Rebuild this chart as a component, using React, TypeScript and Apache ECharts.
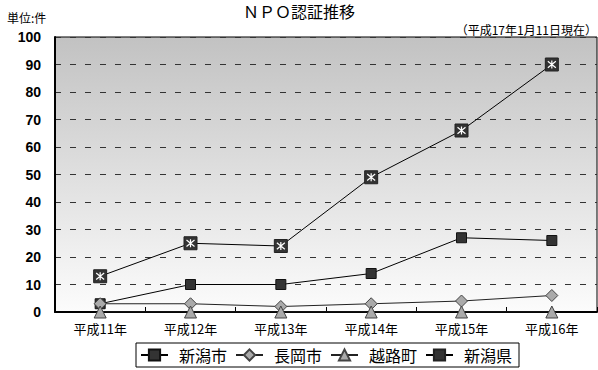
import React, { useEffect, useRef } from "react";
import * as echarts from "echarts";

const categories = ["平成11年", "平成12年", "平成13年", "平成14年", "平成15年", "平成16年"];
const niigataCity = [3, 10, 10, 14, 27, 26];
const nagaokaCity = [3, 3, 2, 3, 4, 6];
const koshijiTown = [0, 0, 0, 0, 0, 0];
const niigataPref = [13, 25, 24, 49, 66, 90];
const seriesNames = ["新潟市", "長岡市", "越路町", "新潟県"];
const yTicks = { min: 0, max: 100, interval: 10 };

const JP = '"Noto Sans CJK JP", "Noto Sans", sans-serif';

export default function App() {
  const ref = useRef<HTMLDivElement>(null);
  useEffect(() => {
    if (!ref.current) return;
    const chart = echarts.init(ref.current, null, { renderer: "svg" });
    const option = {
      animation: false,
      backgroundColor: "#ffffff",
      graphic: [
        {
          type: "text",
          left: "center",
          top: 3,
          style: { text: "ＮＰＯ認証推移", fontSize: 16, fill: "#000", fontFamily: JP },
        },
        {
          type: "text",
          left: 7,
          top: 11,
          style: { text: "単位:件", fontSize: 12, fill: "#000", fontFamily: JP },
        },
        {
          type: "text",
          right: 1,
          top: 23,
          style: { text: "（平成17年1月11日現在）", fontSize: 12, fill: "#000", fontFamily: JP },
        },
      ],
      grid: {
        left: 55,
        right: 1,
        top: 37,
        bottom: 58,
        show: true,
        borderColor: "#000",
        borderWidth: 1,
        backgroundColor: new echarts.graphic.LinearGradient(0, 0, 0, 1, [
          { offset: 0, color: "#c2c2c2" },
          { offset: 1, color: "#fcfcfc" },
        ]),
      },
      legend: {
        data: seriesNames,
        left: 136,
        top: 343,
        padding: [4, 7, 4, 4],
        borderColor: "#000",
        borderWidth: 1,
        itemWidth: 27,
        itemHeight: 14,
        itemGap: 8,
        textStyle: { fontSize: 16, color: "#000", fontFamily: JP, padding: [0, 0, 0, 6] },
      },
      xAxis: {
        type: "category",
        data: categories,
        boundaryGap: true,
        axisLine: { show: true, lineStyle: { color: "#000", width: 2 } },
        axisTick: { show: true, inside: true, length: 5, lineStyle: { color: "#000" } },
        axisLabel: { fontSize: 13, color: "#000", margin: 10, fontFamily: JP },
        splitLine: { show: false },
      },
      yAxis: {
        type: "value",
        min: yTicks.min,
        max: yTicks.max,
        interval: yTicks.interval,
        axisLine: { show: true, lineStyle: { color: "#000", width: 2 } },
        axisTick: { show: false },
        axisLabel: {
          fontSize: 14,
          fontWeight: "bold",
          color: "#000",
          margin: 14,
          fontFamily: '"Liberation Sans", Arial, sans-serif',
        },
        splitLine: { show: true, lineStyle: { color: "#333", type: [6, 9], width: 1 } },
      },
      series: [
        {
          name: "新潟市",
          type: "line",
          data: niigataCity,
          symbol: "rect",
          symbolSize: 10,
          lineStyle: { color: "#000", width: 1 },
          itemStyle: { color: "#333", borderColor: "#111", borderWidth: 1 },
        },
        {
          name: "長岡市",
          type: "line",
          data: nagaokaCity,
          symbol: "diamond",
          symbolSize: 12,
          lineStyle: { color: "#222", width: 1 },
          itemStyle: { color: "#aaaaaa", borderColor: "#444", borderWidth: 1 },
        },
        {
          name: "越路町",
          type: "line",
          data: koshijiTown,
          symbol: "triangle",
          symbolSize: 12,
          lineStyle: { color: "#222", width: 1 },
          itemStyle: { color: "#aaaaaa", borderColor: "#444", borderWidth: 1 },
        },
        {
          name: "新潟県",
          type: "line",
          data: niigataPref,
          symbol: "rect",
          symbolSize: 13,
          lineStyle: { color: "#000", width: 1 },
          itemStyle: { color: "#333", borderColor: "#222", borderWidth: 1 },
        },
        {
          name: "新潟県",
          type: "line",
          data: niigataPref,
          symbol: "path://M1,1L9,9M9,1L1,9M5,0L5,10",
          symbolSize: 8,
          silent: true,
          lineStyle: { width: 0, opacity: 0 },
          itemStyle: { color: "rgba(0,0,0,0)", borderColor: "#fff", borderWidth: 1.2 },
        },
      ],
    };
    chart.setOption(option as any);
    return () => chart.dispose();
  }, []);
  return (
    <div
      ref={ref}
      style={{ position: "fixed", left: 0, top: 0, width: 598, height: 370 }}
    />
  );
}
